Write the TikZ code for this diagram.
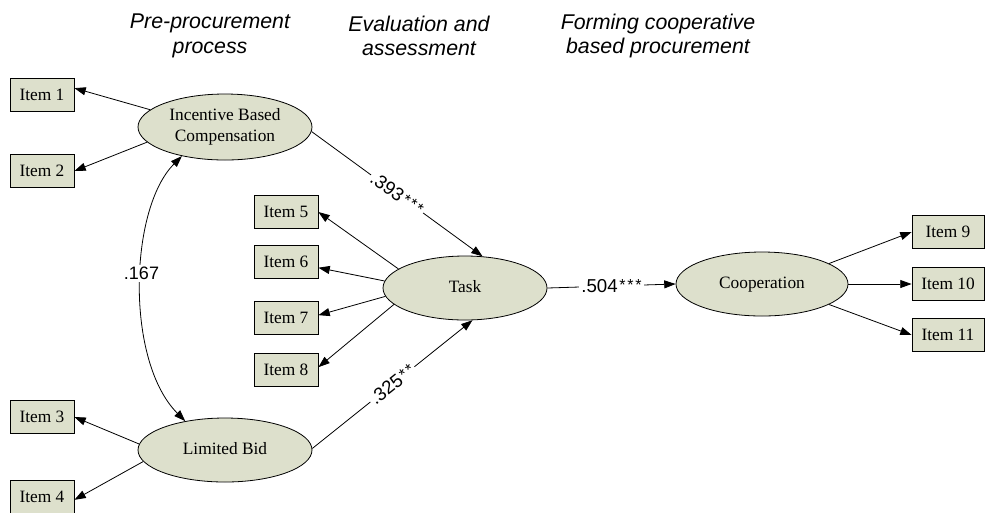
\documentclass[tikz,border=0pt]{standalone}
\usepackage{fontspec}
\setmainfont{Liberation Serif}
\setsansfont{Liberation Sans}
\usetikzlibrary{shapes.geometric,arrows.meta}
\definecolor{semfill}{RGB}{221,224,204}
\newcommand{\astk}{\hspace{1.3pt}\raisebox{1.5pt}{\fontsize{12}{12}\selectfont *}}
\tikzset{
  itembox/.style={draw, fill=semfill, line width=0.6pt, minimum width=48pt, minimum height=24.75pt, inner sep=0pt, font=\fontsize{13}{15}\selectfont},
  widebox/.style={itembox, minimum width=54pt},
  latent/.style={draw, fill=semfill, ellipse, line width=0.6pt, inner sep=0pt, align=center, font=\fontsize{13}{15.5}\selectfont},
  oneline/.style={text height=9pt, text depth=2pt},
  arr/.style={line width=0.6pt, -{Triangle[length=8.5pt,width=6pt]}},
  covarr/.style={line width=0.6pt, {Triangle[length=8.5pt,width=6pt]}-{Triangle[length=8.5pt,width=6pt]}},
  coef/.style={fill=white, inner sep=1.5pt, font=\sffamily\fontsize{14}{16}\selectfont},
  header/.style={align=center, font=\sffamily\itshape\fontsize{16}{18.5}\selectfont}
}
\begin{document}
\begin{tikzpicture}[x=0.75pt,y=-0.75pt]
\useasboundingbox (0,0) rectangle (985,512);
% headers
\node[header] (h1) at (210,36) {Pre-procurement\\process};
\node[header] (h2) at (419,36) {Evaluation and\\assessment};
\node[header] (h3) at (658,36) {Forming cooperative\\based procurement};
% latent variables
\node[latent, minimum width=130.5pt, minimum height=49.5pt] (ibc) at (225,127) {Incentive Based\\Compensation};
\node[latent, oneline, minimum width=130.5pt, minimum height=48pt] (lb) at (225,450) {Limited Bid};
\node[latent, oneline, minimum width=123pt, minimum height=48pt] (task) at (465,288) {Task};
\node[latent, oneline, minimum width=129pt, minimum height=48pt] (coop) at (762,284) {Cooperation};
% items
\node[itembox] (i1) at (42,95) {Item 1};
\node[itembox] (i2) at (42,171) {Item 2};
\node[itembox] (i3) at (42,417) {Item 3};
\node[itembox] (i4) at (42,497) {Item 4};
\node[itembox] (i5) at (286,212) {Item 5};
\node[itembox] (i6) at (286,262) {Item 6};
\node[itembox] (i7) at (286,318) {Item 7};
\node[itembox] (i8) at (286,370) {Item 8};
\node[widebox] (i9) at (948,232) {Item 9};
\node[widebox] (i10) at (948,284) {Item 10};
\node[widebox] (i11) at (948,335) {Item 11};
% measurement arrows
\draw[arr] (ibc.167) -- (i1.12);
\draw[arr] (ibc.191) -- (i2.east);
\draw[arr] (lb.176) -- (i3.east);
\draw[arr] (lb.188) -- (i4.355);
\draw[arr] (task.164) -- (i5.east);
\draw[arr] (task.175) -- (i6.350);
\draw[arr] (task.186) -- (i7.5);
\draw[arr] (task.193) -- (i8.5);
\draw[arr] (coop.17) -- (i9.west);
\draw[arr] (coop.east) -- (i10.west);
\draw[arr] (coop.343) -- (i11.west);
% structural paths
\draw[arr] (ibc.357) -- node[coef, sloped] {.393\astk\astk\astk} (task.61);
\draw[arr] (lb.1) -- node[coef, sloped] {.325\astk\astk} (task.283);
\draw[arr] (task.east) -- node[coef] {.504\astk\astk\astk} (coop.west);
% covariance
\draw[covarr] (ibc.214) .. controls +(-53,53) and +(-60,-60) .. node[coef, pos=0.46, font=\sffamily\fontsize{13.5}{16}\selectfont] {.167} (lb.144);
\end{tikzpicture}
\end{document}
